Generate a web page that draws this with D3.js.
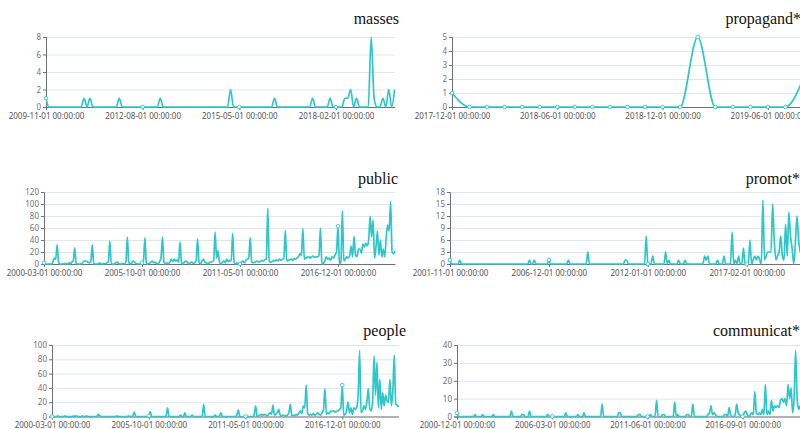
<!DOCTYPE html>
<html>
<head>
<meta charset="utf-8">
<script src="https://cdn.jsdelivr.net/npm/d3@7"></script>
<style>
  body { margin: 0; background: #fff; }
  svg { display: block; }
</style>
</head>
<body>
<svg id="chart" width="800" height="429"></svg>
<script>
// monthly counts per search term
const massesStart = "2009-11-01";
const masses = [
  1,0,0,0,0,0,0,0,0,0,0,0,
  0,1,0,1,0,0,0,0,0,0,0,0,
  0,1,0,0,0,0,0,0,0,0,0,0,
  0,0,0,1,0,0,0,0,0,0,0,0,
  0,0,0,0,0,0,0,0,0,0,0,0,
  0,0,0,2,0,0,0,0,0,0,0,0,
  0,0,0,0,0,0,1,0,0,0,0,0,
  0,0,0,0,0,0,0,1,0,0,0,0,
  0,1,0,0,0,0,1,1,2,0,1,0,
  0,0,0,8,1,0,0,1,0,2,0,2
];
const massesTicks = ["2009-11-01 00:00:00", "2012-08-01 00:00:00", "2015-05-01 00:00:00", "2018-02-01 00:00:00"];
const massesY = [0, 2, 4, 6, 8];

const propagandStart = "2017-12-01";
const propagand = [1,0,0,0,0,0,0,0,0,0,0,0,0,0,5,0,0,0,0,0,2];
const propagandTicks = ["2017-12-01 00:00:00", "2018-06-01 00:00:00", "2018-12-01 00:00:00", "2019-06-01 00:00:00"];
const propagandY = [0, 1, 2, 3, 4, 5];

const publicStart = "2000-03-01";
const publicVals = [
  2,0,0,0,0,0,3,10,8,32,2,0,
  0,0,1,0,0,2,0,3,5,27,1,0,
  0,0,1,4,5,5,3,2,4,32,1,0,
  0,0,2,0,0,1,0,2,4,38,0,0,
  0,2,3,1,0,0,1,0,3,45,2,0,
  2,5,3,1,0,0,0,2,5,44,2,0,
  1,3,5,2,3,1,0,4,10,45,3,0,
  2,1,3,8,4,8,5,7,3,37,2,0,
  3,5,3,0,2,3,1,2,5,42,3,0,
  5,8,3,2,0,2,3,4,6,53,10,22,
  3,0,3,5,2,8,4,6,5,51,3,0,
  2,0,0,3,5,2,6,8,10,44,3,2,
  3,4,5,3,4,6,5,7,8,93,4,3,
  4,6,5,7,5,8,6,8,9,56,5,6,
  7,8,6,9,8,10,12,17,14,59,8,10,
  11,12,10,12,13,11,12,12,14,60,2,0,
  5,12,8,10,6,12,10,15,20,63,0,3,
  89,5,8,12,10,14,30,12,46,15,12,25,
  25,18,33,28,35,30,40,80,45,73,10,28,
  55,15,40,12,25,12,45,65,55,104,20,17,
  22
];
const publicTicks = ["2000-03-01 00:00:00", "2005-10-01 00:00:00", "2011-05-01 00:00:00", "2016-12-01 00:00:00"];
const publicY = [0, 20, 40, 60, 80, 100, 120];

const promotStart = "2001-11-01";
const promot = [
  1,0,0,0,0,0,1,0,0,0,0,0,
  0,0,0,0,0,0,0,0,0,0,0,0,
  0,0,0,0,0,0,0,0,0,0,0,0,
  0,0,0,0,0,0,0,0,0,0,0,0,
  0,1,0,0,1,0,0,0,0,0,0,0,
  0,1,0,0,0,0,0,0,0,0,0,0,
  0,1,0,0,0,0,0,0,0,0,0,0,
  0,3,0,0,0,0,0,0,0,0,0,0,
  0,0,0,0,0,0,0,0,0,0,0,0,
  1,1,0,0,0,0,0,0,0,0,0,0,
  0,7,0,0,0,2,0,0,0,0,0,0,
  0,3,0,1,0,0,0,0,0,1,0,0,
  0,1,0,0,0,0,0,0,0,0,0,0,
  0,2,1,2,0,0,0,0,0,1,0,0,
  0,2,0,0,0,0,8,0,1,0,2,0,
  0,4,0,0,0,6,0,1,2,1,2,1,
  0,16,1,2,3,3,3,15,6,1,2,3,
  7,2,1,10,2,13,7,4,0,5,12,6,
  3
];
const promotTicks = ["2001-11-01 00:00:00", "2006-12-01 00:00:00", "2012-01-01 00:00:00", "2017-02-01 00:00:00"];
const promotY = [0, 3, 6, 9, 12, 15, 18];

const peopleStart = "2000-03-01";
const people = [
  0,0,0,0,1,0,0,0,0,1,0,0,
  0,0,0,1,0,1,0,0,0,1,0,0,
  1,0,0,0,0,0,0,0,3,1,0,0,
  0,0,0,0,0,0,0,0,0,1,0,0,
  0,0,0,0,0,1,0,0,1,6,0,0,
  0,0,0,0,0,0,0,1,7,0,0,0,
  0,0,0,0,0,0,0,1,12,0,0,0,
  0,0,0,0,0,2,0,0,5,0,0,0,
  0,2,0,0,0,0,0,0,1,17,0,0,
  0,0,0,0,0,2,0,0,1,5,0,0,
  0,0,0,0,0,0,0,0,2,9,0,0,
  0,0,0,0,0,0,0,0,3,15,0,1,
  2,3,2,3,2,1,3,5,3,16,2,3,
  5,10,2,1,2,1,1,2,5,17,1,2,
  1,3,2,5,8,4,15,12,44,5,2,3,
  2,4,2,3,5,3,2,5,10,39,3,5,
  4,8,7,8,6,7,8,10,12,44,2,3,
  8,20,5,12,3,12,10,13,30,92,5,8,
  15,10,20,39,12,8,20,85,30,76,12,52,
  10,33,15,30,22,20,52,15,35,86,17,16,
  13
];
const peopleTicks = ["2000-03-01 00:00:00", "2005-10-01 00:00:00", "2011-05-01 00:00:00", "2016-12-01 00:00:00"];
const peopleY = [0, 20, 40, 60, 80, 100];

const communicatStart = "2000-12-01";
const communicat = [
  2,0,0,0,0,0,0,0,0,0,0,0,
  1,0,0,0,0,1,0,0,0,0,0,0,
  1,0,0,0,0,0,0,0,0,0,0,0,
  3,0,0,0,0,0,0,1,1,0,0,0,
  3,0,0,0,0,0,0,0,0,0,0,0,
  1,0,0,0,0,0,0,0,0,0,0,0,
  2,0,0,0,0,0,0,0,1,0,0,0,
  2,0,0,0,0,0,0,0,0,0,0,0,
  7,0,0,0,0,0,0,0,0,0,0,2,
  2,0,0,0,0,0,0,0,0,0,0,0,
  1,1,0,0,0,0,0,0,1,0,0,0,
  9,0,0,0,1,1,0,0,0,0,0,0,
  8,0,1,0,0,0,0,0,1,1,0,0,
  7,0,0,0,0,0,0,0,0,0,1,2,
  6,1,2,1,0,0,0,0,0,1,1,0,
  5,1,0,0,1,7,2,1,0,0,2,3,
  1,0,1,2,1,14,2,1,2,1,4,1,
  18,1,3,1,9,3,6,5,6,5,9,10,
  8,10,6,18,10,16,2,10,37,10,4,6,
  5,3,4
];
const communicatTicks = ["2000-12-01 00:00:00", "2006-03-01 00:00:00", "2011-06-01 00:00:00", "2016-09-01 00:00:00"];
const communicatY = [0, 10, 20, 30, 40];

// layout of the six small charts (pixel boxes of each plot area)
const panels = [
  { title: "masses", start: massesStart, values: masses, ticks: massesTicks, yTicks: massesY,
    left: 46, right: 394.6, top: 37, bottom: 107, titleX: 399, titleY: 24, allSymbols: false },
  { title: "propagand*", start: propagandStart, values: propagand, ticks: propagandTicks, yTicks: propagandY,
    left: 452, right: 803, top: 37, bottom: 107, titleX: 801, titleY: 24, allSymbols: true },
  { title: "public", start: publicStart, values: publicVals, ticks: publicTicks, yTicks: publicY,
    left: 44, right: 395, top: 192, bottom: 264, titleX: 398, titleY: 184, allSymbols: false },
  { title: "promot*", start: promotStart, values: promot, ticks: promotTicks, yTicks: promotY,
    left: 450, right: 800.2, top: 192, bottom: 264, titleX: 800, titleY: 184, allSymbols: false },
  { title: "people", start: peopleStart, values: people, ticks: peopleTicks, yTicks: peopleY,
    left: 52, right: 398.6, top: 345, bottom: 416.5, titleX: 406, titleY: 336, allSymbols: false },
  { title: "communicat*", start: communicatStart, values: communicat, ticks: communicatTicks, yTicks: communicatY,
    left: 457, right: 804.7, top: 345, bottom: 416.5, titleX: 800, titleY: 336, allSymbols: false }
];

const lineColor = "#2ec7c9";
const fmt = d3.utcFormat("%Y-%m-%d %H:%M:%S");

function monthCats(start, n) {
  const s = new Date(start + "T00:00:00Z");
  return d3.utcMonths(s, d3.utcMonth.offset(s, n)).map(fmt);
}

const svg = d3.select("#chart");

panels.forEach(p => {
  const cats = monthCats(p.start, p.values.length);
  const x = d3.scalePoint().domain(cats).range([p.left, p.right]);
  const y = d3.scaleLinear().domain([0, d3.max(p.yTicks)]).range([p.bottom, p.top]);
  const g = svg.append("g");

  // horizontal split lines
  g.append("g")
    .attr("transform", `translate(${p.left},0)`)
    .call(d3.axisLeft(y).tickValues(p.yTicks).tickSize(-(p.right - p.left)).tickFormat(""))
    .call(a => a.select(".domain").remove())
    .call(a => a.selectAll("line").attr("stroke", "#e0e6f1"));

  // y axis
  g.append("g")
    .attr("transform", `translate(${p.left},0)`)
    .call(d3.axisLeft(y).tickValues(p.yTicks).tickFormat(d3.format("d")).tickSize(3).tickPadding(2))
    .call(a => a.select(".domain").attr("stroke", "#6e7079"))
    .call(a => a.selectAll("line").attr("stroke", "#6e7079"))
    .call(a => a.selectAll("text").attr("fill", "#6e7079")
      .style("font-family", "'Noto Sans', sans-serif").style("font-size", "8px"));

  // x axis
  g.append("g")
    .attr("transform", `translate(0,${p.bottom})`)
    .call(d3.axisBottom(x).tickValues(p.ticks).tickSize(3).tickPadding(3).tickSizeOuter(0))
    .call(a => a.select(".domain").attr("stroke", "#6e7079"))
    .call(a => a.selectAll("line").attr("stroke", "#6e7079"))
    .call(a => a.selectAll("text").attr("fill", "#555")
      .style("font-family", "'Noto Sans', sans-serif").style("font-size", "8px"));

  // series
  const line = d3.line()
    .x((d, i) => x(cats[i]))
    .y(d => y(d))
    .curve(d3.curveMonotoneX);

  g.append("path")
    .datum(p.values)
    .attr("d", line)
    .attr("fill", "none")
    .attr("stroke", lineColor)
    .attr("stroke-width", 1.7)
    .attr("stroke-linejoin", "round");

  // symbols only where a label sits, unless the series is short
  const tickSet = new Set(p.ticks);
  const pts = p.values.map((v, i) => ({ v, c: cats[i] }))
    .filter(d => p.allSymbols || tickSet.has(d.c));

  g.selectAll("circle")
    .data(pts)
    .enter()
    .append("circle")
    .attr("cx", d => x(d.c))
    .attr("cy", d => y(d.v))
    .attr("r", 1.8)
    .attr("fill", "#fff")
    .attr("stroke", lineColor)
    .attr("stroke-width", 0.9);

  // title
  svg.append("text")
    .attr("x", p.titleX)
    .attr("y", p.titleY)
    .attr("text-anchor", "end")
    .style("font-family", "'Liberation Serif', 'Times New Roman', serif")
    .style("font-size", "16px")
    .attr("fill", "#111")
    .text(p.title);
});
</script>
</body>
</html>
